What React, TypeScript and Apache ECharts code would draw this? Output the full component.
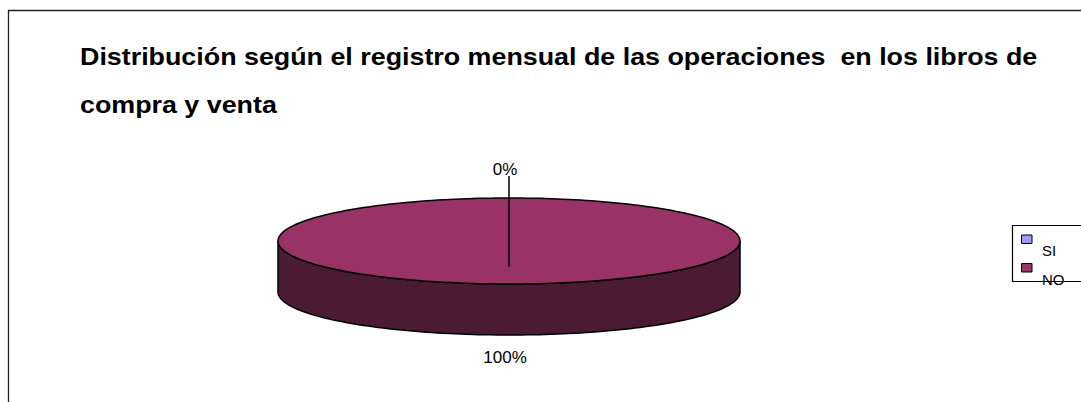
import React, { useEffect, useRef } from "react";
import * as echarts from "echarts";

const TITLE_LINES = [
  "Distribución según el registro mensual de las operaciones  en los libros de",
  "compra y venta",
];
const CATEGORIES = ["SI", "NO"];
const VALUES = [0, 100];
const TOP_COLORS = ["#9999FF", "#993366"];
const SIDE_COLORS = ["#4D4D80", "#4B1A33"];

const FONT = "'Liberation Sans', Arial, Helvetica, sans-serif";
const CX = 509;
const CY = 241;
const RX = 231;
const RY = 43;
const DEPTH = 51;

function pt(theta: number, dy = 0, scale = 1): number[] {
  return [CX + RX * scale * Math.sin(theta), CY - RY * scale * Math.cos(theta) + dy];
}

function arc(a0: number, a1: number, dy: number): number[][] {
  const n = Math.max(2, Math.ceil((a1 - a0) / (Math.PI / 120)));
  const out: number[][] = [];
  for (let i = 0; i <= n; i++) out.push(pt(a0 + ((a1 - a0) * i) / n, dy));
  return out;
}

export default function App() {
  const ref = useRef<HTMLDivElement>(null);
  useEffect(() => {
    if (!ref.current) return;
    const chart = echarts.init(ref.current, undefined, { renderer: "svg" });
    const total = VALUES.reduce((a, b) => a + b, 0);

    const renderItem = (params: any, api: any) => {
      const idx = params.dataIndex;
      const v = api.value(0) as number;
      let before = 0;
      for (let i = 0; i < idx; i++) before += VALUES[i];
      const a0 = (before / total) * Math.PI * 2;
      const a1 = a0 + (v / total) * Math.PI * 2;
      const children: any[] = [];
      const stroke = { stroke: "#000", lineWidth: 1.5 };
      // side wall (front half only)
      const s = Math.max(a0, Math.PI / 2);
      const e = Math.min(a1, (Math.PI * 3) / 2);
      if (e > s) {
        const pts = arc(s, e, 0).concat(arc(s, e, DEPTH).reverse());
        children.push({
          type: "polygon",
          z2: 1,
          shape: { points: pts },
          style: { fill: SIDE_COLORS[idx], ...stroke },
        });
      }
      // top face
      if (v > 0) {
        const full = v >= total;
        const pts = full ? arc(0, Math.PI * 2, 0) : [[CX, CY]].concat(arc(a0, a1, 0));
        children.push({
          type: "polygon",
          z2: 2,
          shape: { points: pts },
          style: { fill: TOP_COLORS[idx], ...stroke },
        });
      }
      // label
      const mid = (a0 + a1) / 2;
      const pct = Math.round((v / total) * 100) + "%";
      const front = Math.cos(mid) < 0;
      const gap = 22;
      const lx = CX + (RX + gap) * Math.sin(mid) - 4;
      const ly = CY - (RY + gap) * Math.cos(mid) + (front ? DEPTH : -7);
      children.push({
        type: "text",
        z2: 10,
        x: lx,
        y: ly,
        style: {
          text: pct,
          fill: "#000",
          font: `17px ${FONT}`,
          align: "center",
          verticalAlign: "middle",
        },
      });
      if (v / total < 0.05) {
        const end = pt(mid, 0, -0.6);
        children.push({
          type: "line",
          z2: 10,
          shape: { x1: CX, y1: ly + 7, x2: end[0], y2: end[1] },
          style: { stroke: "#000", lineWidth: 1.5 },
        });
      }
      return { type: "group", children };
    };

    const legendEls: any[] = [
      {
        type: "rect",
        shape: { x: 1012.5, y: 225.5, width: 200, height: 56 },
        style: { fill: "#fff", stroke: "#000", lineWidth: 1.2 },
        z: 5,
      },
    ];
    CATEGORIES.forEach((c, i) => {
      const y0 = 235 + i * 28.5;
      legendEls.push({
        type: "rect",
        shape: { x: 1021.5, y: y0, width: 10.5, height: 8.5 },
        style: { fill: TOP_COLORS[i], stroke: "#000", lineWidth: 1 },
        z: 6,
      });
      legendEls.push({
        type: "text",
        x: 1042,
        y: y0 + 15.5,
        style: { text: c, fill: "#000", font: `15px ${FONT}`, verticalAlign: "middle" },
        z: 6,
      });
    });

    const titleEls = TITLE_LINES.map((t, i) => ({
      type: "text",
      x: 80,
      y: 56.5 + i * 48,
      scaleX: 1.167,
      style: {
        text: t,
        fill: "#000",
        font: `bold 23px ${FONT}`,
        verticalAlign: "middle",
      },
      z: 5,
    }));

    chart.setOption({
      animation: false,
      backgroundColor: "#fff",
      graphic: [
        {
          type: "rect",
          shape: { x: 8.5, y: 10.5, width: 1200, height: 500 },
          style: { fill: "none", stroke: "#222", lineWidth: 1.3 },
          z: 1,
        },
        ...titleEls,
        ...legendEls,
      ],
      series: [
        {
          type: "custom",
          coordinateSystem: "none",
          clip: false,
          renderItem,
          data: CATEGORIES.map((c, i) => ({ name: c, value: [VALUES[i]] })),
          z: 3,
        },
      ],
    });
    return () => chart.dispose();
  }, []);
  return (
    <div style={{ position: "fixed", left: 0, top: 0, width: 1081, height: 402, overflow: "hidden", background: "#fff" }}>
      <div ref={ref} style={{ width: 1081, height: 402 }} />
    </div>
  );
}
